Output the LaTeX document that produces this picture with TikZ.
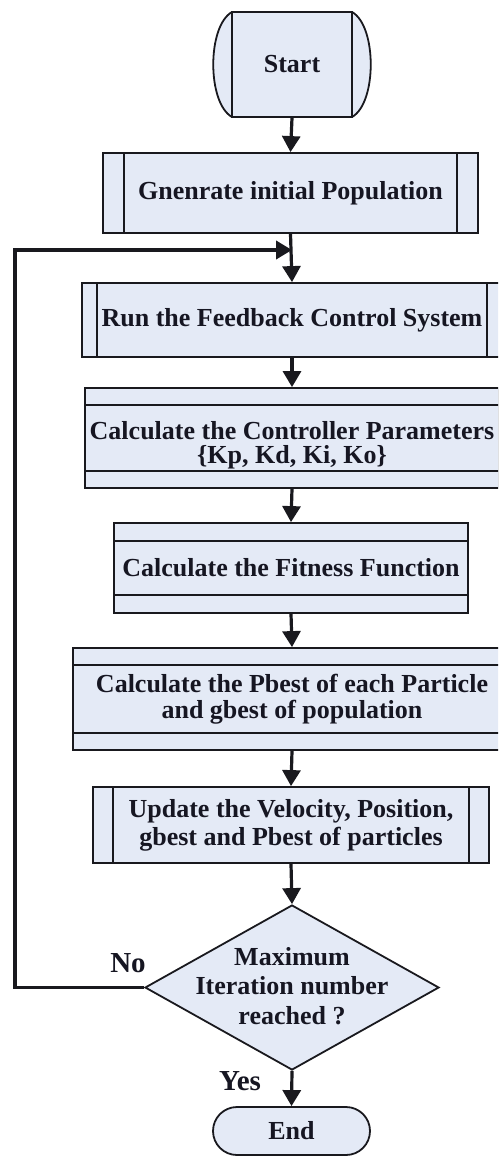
\documentclass[tikz,border=0pt]{standalone}
\usepackage{fontspec}
\setmainfont{Liberation Serif}
\usepackage{tikz}
\usetikzlibrary{shapes.geometric, arrows.meta, positioning, calc}
\definecolor{boxfill}{RGB}{228,234,246}
\definecolor{boxline}{RGB}{25,25,30}
\definecolor{txtdark}{RGB}{22,22,34}
\tikzset{
  line/.style={draw=boxline, line width=1.8pt},
  arrow/.style={-{Triangle[width=18pt,length=16pt]}, line width=3.2pt, color=boxline},
  txt/.style={font=\fontsize{26}{26}\selectfont\bfseries, text=txtdark, align=center, inner sep=0pt},
  procbox/.style={line, fill=boxfill, txt, path picture={
      \draw[line] ([xshift=#1]path picture bounding box.north west) -- ([xshift=#1]path picture bounding box.south west);
      \draw[line] ([xshift=-#1]path picture bounding box.north east) -- ([xshift=-#1]path picture bounding box.south east);}},
  storebox/.style={line, fill=boxfill, txt, path picture={
      \draw[line] ([yshift=-#1]path picture bounding box.north west) -- ([yshift=-#1]path picture bounding box.north east);
      \draw[line] ([yshift=#1]path picture bounding box.south west) -- ([yshift=#1]path picture bounding box.south east);}}
}
\begin{document}
\begin{tikzpicture}[x=1pt, y=-1pt]
  \useasboundingbox (0,0) rectangle (498,1156);
  \clip (0,0) rectangle (498,1156);
  % ═══════════════════════════════════════════════════════════════
  % START
  % ═══════════════════════════════════════════════════════════════
  \draw[line, fill=boxfill] (232,12) .. controls +(-25,14) and +(-25,-14) .. (232,117);
  \draw[line, fill=boxfill] (352,12) .. controls +(25,14) and +(25,-14) .. (352,117);
  \node[line, fill=boxfill, txt, minimum width=120pt, minimum height=105pt] (start) at (292,64.5) {Start};

  % ═══════════════════════════════════════════════════════════════
  % PROCESS STEPS
  % ═══════════════════════════════════════════════════════════════
  \node[procbox=21pt, minimum width=375pt, minimum height=80pt] (gen) at (290.5,193) {Gnenrate initial Population};
  \node[procbox=15pt, minimum width=420pt, minimum height=74pt] (run) at (292,320) {Run the Feedback Control System};
  \node[storebox=17pt, minimum width=414pt, minimum height=100pt] (ctrl) at (292,438) {\rule{0pt}{32pt}Calculate the Controller Parameters\\[-2pt]\{Kp, Kd, Ki, Ko\}};
  \node[storebox=18pt, minimum width=354pt, minimum height=90pt] (fit) at (291,568) {Calculate the Fitness Function};
  \node[storebox=17pt, minimum width=438pt, minimum height=102pt] (pbest) at (292,699) {Calculate the Pbest of each Particle\\and gbest of population};
  \node[procbox=20pt, minimum width=396pt, minimum height=76pt] (upd) at (291,825) {Update the Velocity, Position,\\[2pt]gbest and Pbest of particles};

  % ═══════════════════════════════════════════════════════════════
  % DECISION AND END
  % ═══════════════════════════════════════════════════════════════
  \node[diamond, line, fill=boxfill, inner sep=0pt, minimum width=294pt, minimum height=165pt] (dec) at (292,987.5) {};
  \node[txt, font=\fontsize{26}{29.5}\selectfont\bfseries] (dectxt) at (292,986) {Maximum\\Iteration number\\reached ?};
  \node[line, fill=boxfill, txt, rounded corners=24pt, minimum width=157pt, minimum height=48pt] (stop) at (291.5,1131) {End};

  \node[txt, font=\fontsize{29}{29}\selectfont\bfseries] (nolbl) at (128,963) {No};
  \node[txt, font=\fontsize{29}{29}\selectfont\bfseries] (yeslbl) at (240,1081) {Yes};

  % Connectors
  \coordinate (merge) at (292,250);
  \coordinate (loopc) at (15,250);
  \draw[arrow] (start.south) -- (gen.north);
  \draw[arrow] (gen.south) -- (run.north);
  \draw[arrow] (run.south) -- (ctrl.north);
  \draw[arrow] (ctrl.south) -- (fit.north);
  \draw[arrow] (fit.south) -- (pbest.north);
  \draw[arrow] (pbest.south) -- (upd.north);
  \draw[arrow] (upd.south) -- (dec.north);
  \draw[arrow] (dec.south) -- (stop.north);
  \draw[arrow, line width=3.8pt] (dec.west) -| (loopc) -- (merge);
\end{tikzpicture}
\end{document}
